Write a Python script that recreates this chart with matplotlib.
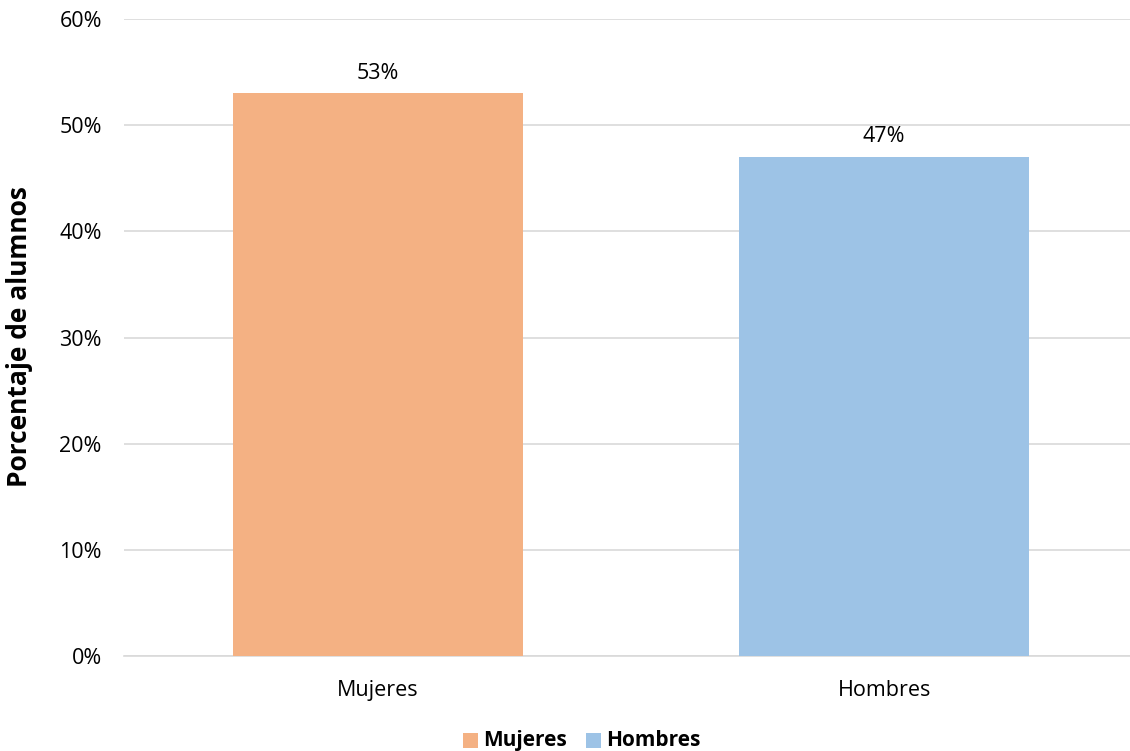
import matplotlib
matplotlib.use("Agg")
import matplotlib.pyplot as plt
from matplotlib.patches import Rectangle

categories = ["Mujeres", "Hombres"]
values = [53, 47]
colors = ["#F4B183", "#9DC3E6"]
yticks = [0, 10, 20, 30, 40, 50, 60]

plt.rcParams["font.family"] = ["Open Sans", "DejaVu Sans"]

W, H = 1130, 751
fig = plt.figure(figsize=(W / 100, H / 100), dpi=100)
ax = fig.add_axes([124 / W, 1 - 656 / H, 1006 / W, (656 - 19) / H])

x = list(range(len(categories)))
ax.bar(x, values, width=0.573, color=colors, zorder=3)

for xi, v in zip(x, values):
    ax.annotate(f"{v}%", (xi, v), xytext=(0, 7), textcoords="offset points",
                ha="center", va="bottom", fontsize=15.5, color="#000000")

ax.set_xlim(-0.502, 1.486)
ax.set_ylim(0, 60)
ax.set_yticks(yticks)
ax.set_yticklabels([f"{t}%" for t in yticks], fontsize=15.5)
ax.set_xticks(x)
ax.set_xticklabels(categories, fontsize=15.5)
ax.tick_params(axis="both", length=0)
ax.tick_params(axis="y", pad=16)
ax.tick_params(axis="x", pad=17)
ax.grid(axis="y", color="#D9D9D9", linewidth=1.2, zorder=0)
for side in ["top", "right", "left"]:
    ax.spines[side].set_visible(False)
ax.spines["bottom"].set_color("#D9D9D9")
ax.spines["bottom"].set_linewidth(1.2)

fig.text(20 / W, 1 - 337 / H, "Porcentaje de alumnos", rotation=90,
         ha="center", va="center", fontsize=19, fontweight="bold")

# Legend: colour squares with bold labels, sharing a common baseline
legend_x = [463, 586]
for lx, label, c in zip(legend_x, categories, colors):
    fig.patches.append(Rectangle((lx / W, 1 - 748 / H), 15 / W, 15 / H,
                                 transform=fig.transFigure, facecolor=c,
                                 edgecolor="none"))
    fig.text((lx + 20) / W, 1 - 746 / H, label, ha="left", va="baseline",
             fontsize=15, fontweight="bold")

fig.savefig("out.png", dpi=100)
